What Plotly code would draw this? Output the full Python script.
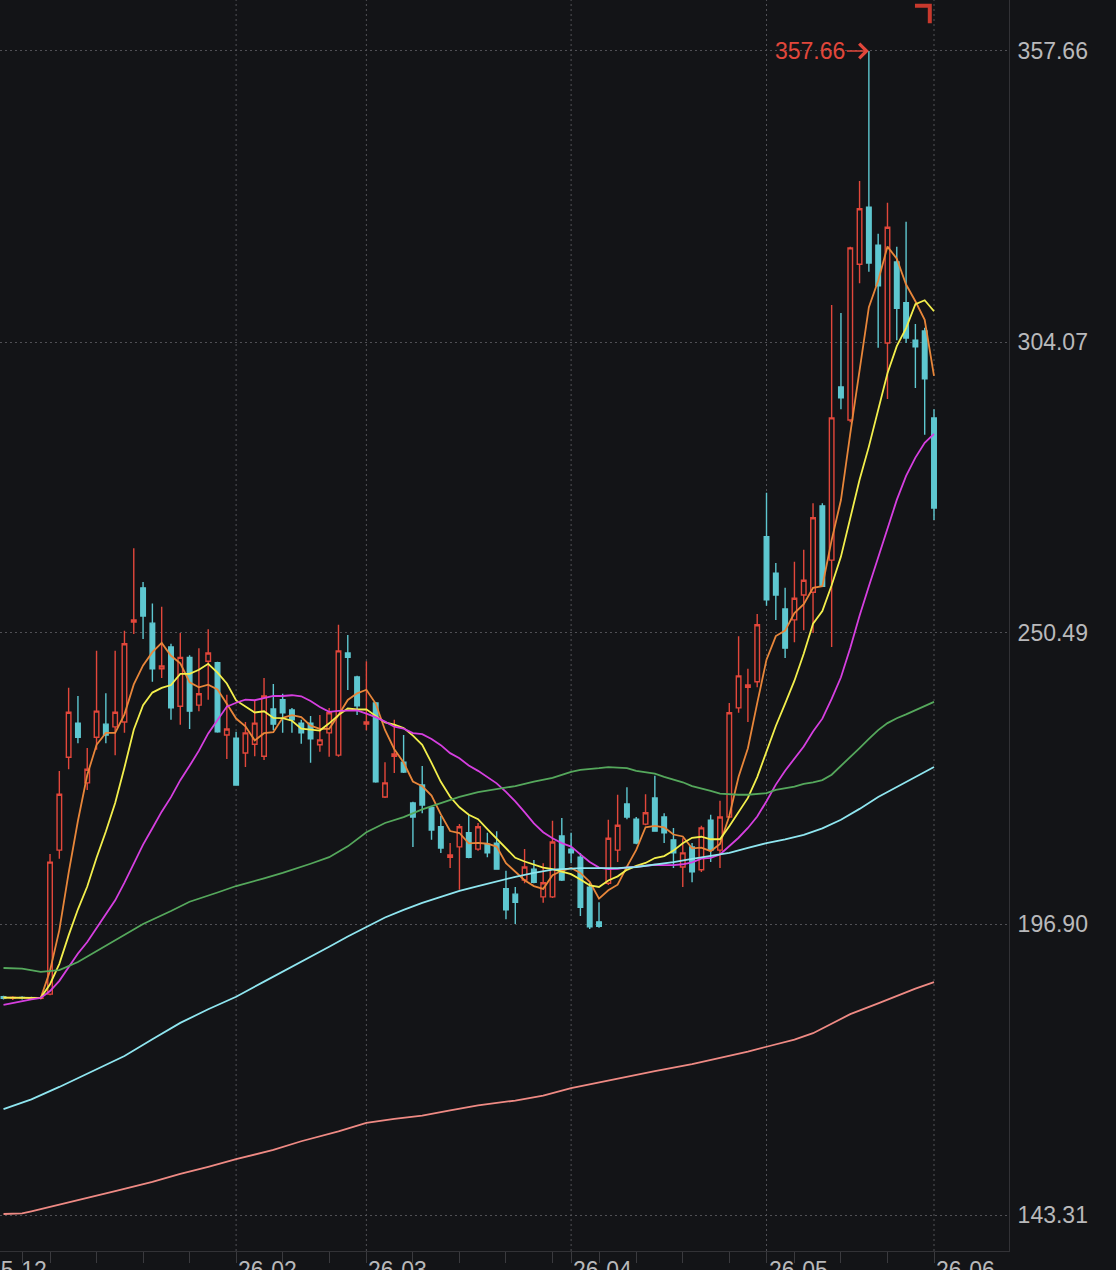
import pandas as pd
import plotly.graph_objects as go

# ---------------- data ----------------
# candle index 0..100 (daily), last candle = first trading day of 26-06
opens = [183.5, 183.2, 183.4, 183.3, 183.2, 184.0, 210.5, 227.6, 233.9, 222.9,
         231.3, 233.7, 233.2, 234.1, 252.5, 258.8, 252.3, 243.9, 247.9, 237.0,
         246.0, 237.2, 245.3, 245.0, 231.7, 231.1, 228.4, 230.0, 227.8, 236.5,
         238.2, 236.3, 233.9, 233.9, 229.9, 232.1, 228.0, 246.8, 242.4, 233.7,
         237.6, 220.3, 227.8, 226.7, 219.2, 222.5, 218.3, 214.8, 209.2, 211.1,
         213.7, 210.7, 211.6, 211.8, 203.4, 202.4, 205.0, 207.0, 201.9, 201.9,
         213.1, 210.7, 209.2, 203.7, 197.3, 204.4, 210.5, 219.0, 216.2, 215.3,
         220.1, 216.6, 212.4, 207.4, 211.1, 206.9, 216.0, 210.5, 216.6, 236.7,
         240.5, 241.5, 268.2, 261.5, 254.9, 252.9, 257.5, 258.0, 273.9, 263.9,
         295.8, 289.7, 318.4, 328.9, 321.9, 303.9, 318.8, 311.3, 304.4, 306.1,
         290.1]
highs = [183.7, 183.6, 183.6, 183.5, 183.5, 209.8, 225.1, 240.4, 238.9, 229.3,
         247.2, 239.4, 247.2, 250.9, 266.1, 259.9, 255.9, 255.3, 248.5, 250.5,
         246.4, 247.7, 251.2, 245.2, 239.1, 232.3, 234.1, 238.2, 242.2, 241.1,
         239.3, 236.7, 234.5, 235.2, 235.4, 236.7, 252.0, 250.1, 242.6, 245.3,
         237.8, 226.7, 234.5, 231.7, 219.4, 226.0, 218.5, 216.8, 211.8, 215.3,
         217.0, 215.5, 213.7, 214.0, 206.7, 203.7, 210.7, 208.7, 208.1, 215.9,
         216.4, 213.7, 210.0, 204.5, 200.9, 216.1, 220.7, 222.1, 216.6, 220.8,
         224.2, 217.3, 214.6, 212.7, 211.8, 215.0, 217.0, 219.6, 237.6, 249.9,
         243.9, 254.0, 276.3, 263.4, 258.8, 263.6, 265.8, 274.4, 274.4, 310.9,
         309.4, 321.6, 333.7, 357.66, 324.0, 329.7, 321.6, 326.2, 307.4, 306.7,
         291.7]
lows = [183.0, 182.9, 183.0, 182.9, 183.0, 183.8, 208.9, 225.4, 230.2, 221.6,
        229.0, 230.2, 228.0, 232.1, 250.3, 249.4, 241.5, 242.2, 234.5, 233.6,
        232.8, 236.1, 238.2, 232.1, 227.3, 222.4, 225.8, 227.8, 227.1, 232.6,
        232.1, 232.1, 230.1, 226.6, 228.6, 227.7, 227.7, 240.0, 235.4, 232.6,
        222.9, 220.1, 224.7, 224.7, 211.1, 217.3, 212.4, 210.0, 207.2, 203.2,
        209.0, 210.4, 209.2, 206.9, 197.8, 196.9, 204.4, 204.4, 200.8, 201.7,
        204.8, 208.1, 198.4, 196.0, 196.2, 204.1, 208.3, 216.2, 211.6, 215.1,
        213.9, 211.8, 207.2, 203.7, 204.6, 206.5, 208.3, 207.2, 216.4, 235.8,
        234.1, 240.5, 255.5, 252.9, 245.9, 248.8, 251.0, 250.5, 259.0, 247.9,
        291.7, 289.3, 314.9, 317.0, 303.0, 293.6, 304.4, 303.9, 295.6, 287.0,
        271.3]
closes = [183.2, 183.4, 183.3, 183.2, 183.3, 208.3, 220.8, 235.9, 231.3, 225.4,
          236.1, 231.7, 235.9, 248.5, 252.9, 253.6, 243.9, 244.4, 236.7, 246.0,
          236.1, 239.3, 246.8, 232.3, 232.8, 222.5, 232.1, 233.9, 238.9, 233.7,
          235.8, 234.5, 232.1, 231.0, 230.8, 235.8, 247.2, 246.0, 237.1, 234.1,
          223.1, 222.9, 228.2, 224.9, 216.6, 218.8, 214.2, 210.9, 209.6, 214.8,
          209.2, 214.8, 210.0, 207.0, 199.5, 200.9, 207.4, 204.6, 204.5, 212.0,
          205.0, 210.0, 200.0, 196.4, 196.5, 212.7, 215.1, 216.6, 211.8, 217.4,
          214.0, 213.7, 210.0, 210.0, 206.5, 214.6, 210.5, 216.6, 235.8, 242.6,
          240.9, 252.0, 256.6, 257.5, 247.7, 256.9, 260.2, 271.7, 259.1, 290.1,
          293.8, 321.4, 328.6, 318.6, 314.4, 325.2, 310.3, 304.8, 303.2, 297.3,
          273.5]
# closes before the visible window (needed for the short moving averages)
prior_closes = [176.0, 176.5, 177.2, 177.6, 183.0, 183.2, 183.4, 183.3, 183.1, 183.4,
                183.5, 183.2, 183.3, 183.4, 183.2, 183.3, 183.5, 183.3, 183.4]

# long moving averages (candle index, value)
ma60_idx = [0, 2, 4, 6, 8, 10, 12, 15, 18, 20, 23, 25, 28, 30, 33, 35, 37, 39,
            41, 43, 45, 47, 49, 51, 53, 55, 57, 59, 61, 62, 64, 65, 67, 68, 70,
            71, 73, 74, 76, 77, 79, 80, 82, 83, 85, 86, 87, 88, 89, 90, 91, 92,
            93, 94, 95, 96, 97, 98, 99, 100]
ma60_val = [188.8, 188.7, 188.1, 188.4, 189.9, 191.9, 193.9, 196.9, 199.3, 201.0,
            202.7, 203.9, 205.3, 206.3, 208.0, 209.2, 211.2, 213.8, 215.5, 216.6,
            218.0, 219.2, 220.3, 221.2, 221.8, 222.3, 223.1, 223.8, 224.9, 225.3,
            225.6, 225.8, 225.6, 225.1, 224.6, 224.0, 223.0, 222.3, 221.4, 220.9,
            220.7, 220.7, 221.0, 221.6, 222.2, 222.7, 223.0, 223.4, 224.4, 226.0,
            227.6, 229.3, 231.0, 232.6, 233.9, 234.8, 235.5, 236.3, 237.1, 237.8]
ma120_idx = [0, 3, 6, 8, 10, 13, 16, 19, 22, 25, 28, 30, 33, 35, 37, 39, 41, 43,
             45, 47, 49, 51, 53, 55, 57, 59, 61, 62, 64, 66, 68, 70, 72, 74, 76,
             78, 80, 82, 84, 86, 88, 90, 92, 94, 95, 97, 99, 100]
ma120_val = [162.8, 164.6, 166.9, 168.5, 170.2, 172.6, 175.7, 178.7, 181.2, 183.5,
             186.3, 188.1, 190.9, 192.7, 194.6, 196.4, 198.1, 199.5, 200.8, 201.9,
             203.0, 203.9, 204.8, 205.6, 206.3, 206.9, 207.1, 207.2, 207.2, 207.2,
             207.4, 207.8, 208.3, 208.9, 209.4, 210.0, 210.9, 211.8, 212.5, 213.3,
             214.5, 216.1, 218.1, 220.3, 221.2, 223.1, 225.0, 225.8]
ma250_idx = [0, 2, 3, 6, 10, 12, 16, 19, 22, 25, 29, 32, 36, 39, 42, 45, 48, 51,
             55, 58, 61, 65, 70, 74, 77, 80, 82, 85, 87, 89, 91, 94, 96, 98, 100]
ma250_val = [143.5, 143.6, 144.0, 145.2, 146.8, 147.7, 149.4, 150.9, 152.2, 153.6,
             155.3, 156.9, 158.7, 160.3, 161.0, 161.6, 162.6, 163.5, 164.4, 165.3,
             166.7, 168.1, 169.8, 171.1, 172.2, 173.4, 174.3, 175.6, 176.8, 178.5,
             180.3, 182.3, 183.7, 185.0, 186.2]

week_tick_idx = [2, 5, 10, 15, 20, 25, 30, 35, 39, 44, 49, 54, 59, 61, 64, 68, 73,
                 78, 82, 85, 90, 95, 100]
month_idx = [25, 39, 61, 82, 100]
month_labels = ["26-02", "26-03", "26-04", "26-05", "26-06"]
first_label = "25-12"          # sits left of the visible window
first_label_idx = -1.9
ytick_vals = [143.31, 196.90, 250.49, 304.07, 357.66]

# ---------------- figure ----------------
BG = "#131417"
RED = "#e2473b"
CYAN = "#5ec7d0"
GRID = "#505055"
AXIS = "#323236"
TXT = "#b9b9bb"
FONT = "Liberation Sans, Arial, sans-serif"
DOT = "2px,3px"

idx = list(range(len(closes)))
all_close = pd.Series(prior_closes + closes)
n_prior = len(prior_closes)

fig = go.Figure()
fig.add_trace(go.Candlestick(
    x=idx, open=opens, high=highs, low=lows, close=closes,
    increasing=dict(line=dict(color=RED, width=1.4), fillcolor=BG),
    decreasing=dict(line=dict(color=CYAN, width=1.4), fillcolor=CYAN),
    whiskerwidth=0, hoverinfo="skip", showlegend=False,
))

ma_specs = [(5, "#e8863a"), (10, "#f3ef4c"), (20, "#d63fe0")]
for n, col in ma_specs:
    ma = all_close.rolling(n).mean().iloc[n_prior:].tolist()
    fig.add_trace(go.Scatter(x=idx, y=ma, mode="lines",
                             line=dict(color=col, width=1.8),
                             hoverinfo="skip", showlegend=False))

for xs, ys, col in [(ma60_idx, ma60_val, "#55a85c"),
                    (ma120_idx, ma120_val, "#8fe6f0"),
                    (ma250_idx, ma250_val, "#ef8a84")]:
    fig.add_trace(go.Scatter(x=xs, y=ys, mode="lines",
                             line=dict(color=col, width=1.8),
                             hoverinfo="skip", showlegend=False))

x_min, x_max = -0.376, 108.06
plot_w = 1009.0

# vertical month gridlines
for m in month_idx:
    fig.add_shape(type="line", xref="x", yref="paper", x0=m, x1=m, y0=0, y1=1,
                  line=dict(color=GRID, width=1, dash=DOT), layer="below")

# month labels (left aligned at their tick, partly cut by the page bottom)
for m, lab in zip(month_idx, month_labels):
    fig.add_annotation(x=m, y=0, xref="x", yref="paper", text=lab,
                       showarrow=False, xanchor="left", yanchor="top",
                       yshift=-4,
                       font=dict(family=FONT, size=23, color=TXT))
fig.add_annotation(x=(first_label_idx - x_min) / (x_max - x_min), y=0,
                   xref="paper", yref="paper", text=first_label,
                   showarrow=False, xanchor="left", yanchor="top", yshift=-4,
                   font=dict(family=FONT, size=23, color=TXT))

# highest price marker
hi_i = highs.index(max(highs))
fig.add_annotation(x=hi_i, y=highs[hi_i], xref="x", yref="y",
                   text=f"{highs[hi_i]:.2f}", showarrow=True,
                   ax=-22, ay=0, xanchor="right",
                   arrowhead=4, arrowsize=1.9, arrowwidth=1.5, arrowcolor=RED,
                   font=dict(family=FONT, size=23, color=RED))

# red corner marker
fig.add_shape(type="path", xref="paper", yref="paper",
              path="M 0.9068 0.9955 L 0.9215 0.9955 L 0.9215 0.9815",
              line=dict(color="#c8392d", width=4))

fig.update_layout(
    width=1116, height=1270,
    margin=dict(l=0, r=107, t=0, b=19),
    paper_bgcolor=BG, plot_bgcolor=BG,
    showlegend=False, hovermode=False,
    xaxis=dict(range=[x_min, x_max], tickvals=week_tick_idx, ticks="outside",
               ticklen=11, tickcolor="#3a3a3e", tickwidth=1,
               showticklabels=False, showgrid=False, zeroline=False,
               showline=True, linecolor=AXIS, linewidth=1,
               rangeslider=dict(visible=False), fixedrange=True),
    yaxis=dict(range=[136.69, 367.05], side="right", tickvals=ytick_vals,
               ticktext=[f"{v:.2f}" for v in ytick_vals], ticks="",
               ticklabelstandoff=3,
               tickfont=dict(family=FONT, size=23, color=TXT),
               showgrid=True, gridcolor=GRID, griddash=DOT, gridwidth=1,
               zeroline=False, showline=True, linecolor=AXIS, linewidth=1,
               fixedrange=True),
)

fig.write_html("out.html")
